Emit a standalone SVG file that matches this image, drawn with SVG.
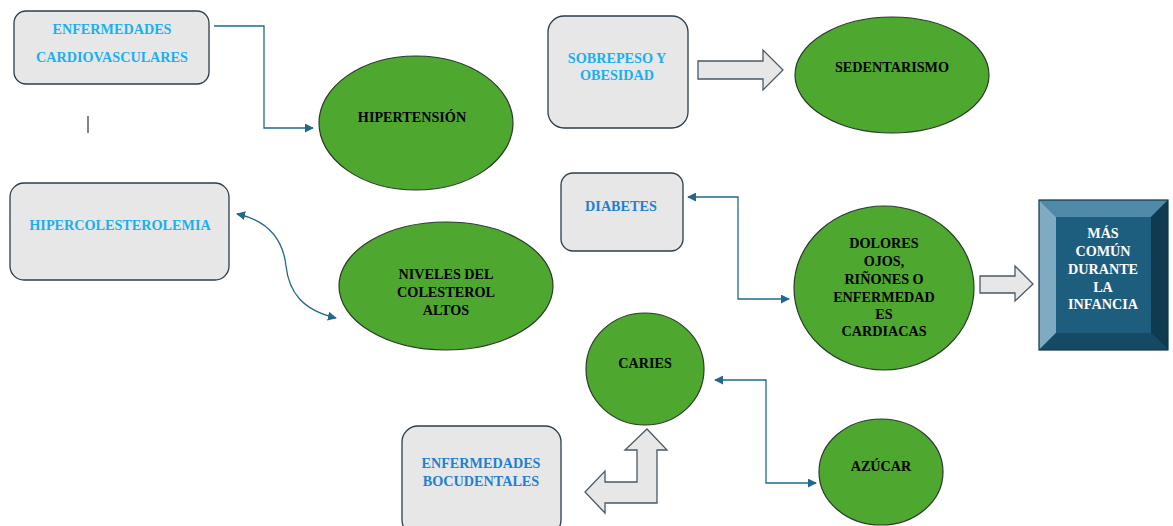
<svg xmlns="http://www.w3.org/2000/svg" width="1173" height="526" viewBox="0 0 1173 526">
<defs>
<style>
.box{fill:#e7e7e7;stroke:#2c3e4c;stroke-width:1.3}
.ell{fill:#4ea72e;stroke:#2a3a2e;stroke-width:1.2}
.t{font-family:"Liberation Serif","Times New Roman",serif;font-weight:bold;font-size:14.2px;text-anchor:middle}
.lb{fill:#1ab0ef}
.db{fill:#1f7fd0}
.bk{fill:#000}
.wh{fill:#fff}
.con{fill:none;stroke:#22688e;stroke-width:1.3}
.blk{fill:#e7e7e7;stroke:#4a5966;stroke-width:1.3}
</style>
<marker id="ah" viewBox="0 0 10 10" refX="9" refY="5" markerWidth="9" markerHeight="9" markerUnits="userSpaceOnUse" orient="auto-start-reverse">
<path d="M0,0 L10,5 L0,10 Z" fill="#22688e"/>
</marker>
</defs>
<rect width="1173" height="526" fill="#fff"/>

<g id="connectors">
<path class="con" d="M214,26 H264 V128 H313" marker-end="url(#ah)"/>
<path class="con" d="M237,214 C275,222 284,248 286,266 C289,292 302,310 336,318" marker-start="url(#ah)" marker-end="url(#ah)"/>
<path class="con" d="M688,197 H738 V299 H789" marker-start="url(#ah)" marker-end="url(#ah)"/>
<path class="con" d="M715,380 H766 V483 H816" marker-start="url(#ah)" marker-end="url(#ah)"/>
<line x1="88" y1="116" x2="88" y2="133" stroke="#333" stroke-width="1.2"/>
<polygon id="arrow-sobrepeso" class="blk" points="698,61 763,61 763,50 783,70 763,90 763,79 698,79"/>
<polygon id="arrow-dolores" class="blk" points="980,276 1015,276 1015,266 1033,284 1015,301 1015,293 980,293"/>
<polygon id="arrow-caries" class="blk" points="647,429 667,450 657,450 657,503 605,503 605,513 585,492 605,471 605,482 637,482 637,450 625,450"/>
</g>

<g id="enf-cardio">
<rect class="box" x="14" y="11" width="195" height="73" rx="12"/>
<text class="t lb" x="112" y="33.5">ENFERMEDADES</text>
<text class="t lb" x="112" y="61.5">CARDIOVASCULARES</text>
</g>

<g id="hipertension">
<ellipse class="ell" cx="416" cy="123" rx="97" ry="67"/>
<text class="t bk" x="412" y="121.5">HIPERTENSIÓN</text>
</g>

<g id="sobrepeso">
<rect class="box" x="548" y="16" width="140" height="112" rx="16"/>
<text class="t lb" x="617" y="62.5">SOBREPESO Y</text>
<text class="t lb" x="617" y="79.5">OBESIDAD</text>
</g>

<g id="sedentarismo">
<ellipse class="ell" cx="892" cy="75" rx="97" ry="58"/>
<text class="t bk" x="892" y="71.5">SEDENTARISMO</text>
</g>

<g id="hipercolesterolemia">
<rect class="box" x="10" y="183" width="219" height="97" rx="14"/>
<text class="t lb" x="120" y="230">HIPERCOLESTEROLEMIA</text>
</g>

<g id="niveles">
<ellipse class="ell" cx="446" cy="286" rx="107" ry="64"/>
<text class="t bk" x="446" y="278.5">NIVELES DEL</text>
<text class="t bk" x="446" y="296.5">COLESTEROL</text>
<text class="t bk" x="446" y="314.5">ALTOS</text>
</g>

<g id="diabetes">
<rect class="box" x="561" y="173" width="122" height="78" rx="12"/>
<text class="t db" x="621" y="211">DIABETES</text>
</g>

<g id="dolores">
<ellipse class="ell" cx="884" cy="288" rx="90" ry="82"/>
<text class="t bk" x="884" y="248">DOLORES</text>
<text class="t bk" x="884" y="266">OJOS,</text>
<text class="t bk" x="884" y="284">RIÑONES O</text>
<text class="t bk" x="884" y="301.5">ENFERMEDAD</text>
<text class="t bk" x="884" y="318.5">ES</text>
<text class="t bk" x="884" y="335.5">CARDIACAS</text>
</g>

<g id="mas-comun">
<rect x="1039" y="200" width="129" height="150" fill="#1d5d7e"/>
<polygon points="1039,200 1168,200 1151,217 1056,217" fill="#4f8aa8"/>
<polygon points="1039,200 1056,217 1056,333 1039,350" fill="#7eaac2"/>
<polygon points="1168,200 1168,350 1151,333 1151,217" fill="#0f3a50"/>
<polygon points="1039,350 1056,333 1151,333 1168,350" fill="#154a64"/>
<rect x="1039" y="200" width="129" height="150" fill="none" stroke="#10364a" stroke-width="1.2"/>
<text class="t wh" x="1103" y="237.5">MÁS</text>
<text class="t wh" x="1103" y="255.5">COMÚN</text>
<text class="t wh" x="1103" y="273.5">DURANTE</text>
<text class="t wh" x="1103" y="291.5">LA</text>
<text class="t wh" x="1103" y="309">INFANCIA</text>
</g>

<g id="caries">
<ellipse class="ell" cx="645" cy="369" rx="59" ry="56"/>
<text class="t bk" x="645" y="368">CARIES</text>
</g>

<g id="azucar">
<ellipse class="ell" cx="881" cy="472" rx="62" ry="53"/>
<text class="t bk" x="881" y="471">AZÚCAR</text>
</g>

<g id="enf-bocudentales">
<rect class="box" x="402" y="426" width="159" height="110" rx="16"/>
<text class="t db" x="481" y="468">ENFERMEDADES</text>
<text class="t db" x="481" y="486">BOCUDENTALES</text>
</g>
</svg>
